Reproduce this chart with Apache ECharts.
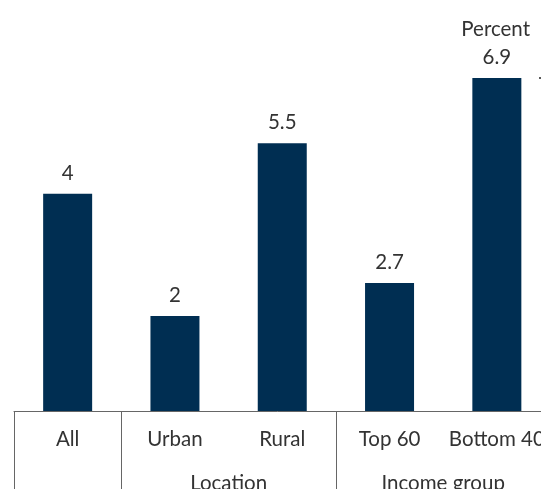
<!DOCTYPE html>
<html>
<head>
<meta charset="utf-8">
<script src="https://cdn.jsdelivr.net/npm/echarts@6/dist/echarts.min.js"></script>
<style>html,body{margin:0;padding:0;background:#fff}#c{width:541px;height:492px}</style>
</head>
<body>
<div id="c"></div>
<script>
const categories = ['All', 'Urban', 'Rural', 'Top 60', 'Bottom 40'];
const values = [4.5, 1.97, 5.55, 2.65, 6.9];
const valueLabels = ['4', '2', '5.5', '2.7', '6.9'];
const groupNames = ['Location', 'Income group'];
const groupStart = [1, 3];
const groupEnd = [2, 4];
const unitLabel = 'Percent';

const FONT = 'Lato';
const FS = 20.5;
const TXT = '#333333';
const LINE = '#666666';
const BAR = '#002e52';

const sepValues = [0].concat(groupStart);
const groupCenters = groupStart.map((s, i) => (s + groupEnd[i] + 1) / 2);

const chart = echarts.init(document.getElementById('c'));
chart.setOption({
  animation: false,
  textStyle: { fontFamily: FONT },
  title: {
    text: unitLabel, right: 6, top: 14,
    textStyle: { fontFamily: FONT, fontSize: FS, fontWeight: 'normal', color: TXT }
  },
  grid: { left: 14, top: 78, width: 536.5, height: 333, containLabel: false, outerBoundsMode: 'none' },
  xAxis: [
    {
      type: 'category', data: categories, position: 'bottom',
      axisLine: { show: true, onZero: false, lineStyle: { color: LINE, width: 1 } },
      axisTick: { show: false },
      axisLabel: { margin: 18, fontSize: FS, color: TXT, fontFamily: FONT, interval: 0 }
    },
    {
      type: 'value', min: 0, max: 5, position: 'bottom',
      axisLine: { show: false, onZero: false },
      splitLine: { show: false },
      axisTick: { show: true, customValues: sepValues, length: 78, lineStyle: { color: LINE, width: 1 } },
      axisLabel: {
        customValues: groupCenters, margin: 62, fontSize: FS, color: TXT, fontFamily: FONT,
        formatter: v => { const i = groupCenters.indexOf(v); return i >= 0 ? groupNames[i] : ''; }
      }
    }
  ],
  yAxis: {
    type: 'value', min: 0, max: 6.9, position: 'right', offset: -11.5,
    axisLine: { show: false, onZero: false },
    splitLine: { show: false },
    axisLabel: { show: false },
    axisTick: { show: true, customValues: [6.9], length: 2.5, lineStyle: { color: '#222', width: 1.5 } }
  },
  series: [{
    type: 'bar', xAxisIndex: 0, data: values, barWidth: 49,
    itemStyle: { color: BAR },
    label: {
      show: true, position: 'top', distance: 10, fontSize: FS, color: TXT, fontFamily: FONT,
      formatter: p => valueLabels[p.dataIndex]
    }
  }],
  graphic: [
    { type: 'rect', shape: { x: 0, y: 489, width: 541, height: 3 }, style: { fill: '#fff' }, z: 100 }
  ]
});
</script>
</body>
</html>
